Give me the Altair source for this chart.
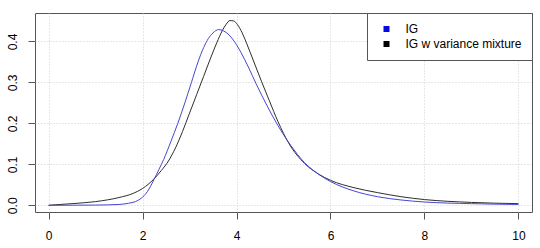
import altair as alt
import pandas as pd

# IG density (blue)
ig_x = [0.0, 0.5, 1.0, 1.5, 1.7, 1.85, 1.97, 2.1, 2.24, 2.35, 2.45, 2.6, 2.75, 2.9, 3.04,
        3.18, 3.3, 3.4, 3.5, 3.62, 3.72, 3.84, 3.96, 4.1, 4.25, 4.42, 4.65, 4.88, 5.15,
        5.45, 5.77, 6.0, 6.5, 7.0, 7.5, 8.0, 9.0, 10.0]
ig_y = [0.0, 0.0002, 0.0005, 0.002, 0.005, 0.009, 0.017, 0.033, 0.062, 0.088, 0.112, 0.155,
        0.2, 0.25, 0.3, 0.35, 0.385, 0.407, 0.421, 0.429, 0.426, 0.416, 0.399, 0.372, 0.338,
        0.296, 0.243, 0.195, 0.147, 0.104, 0.074, 0.058, 0.035, 0.021, 0.013, 0.008, 0.004,
        0.002]

# IG with variance mixture (black)
mix_x = [0.0, 0.5, 1.0, 1.5, 1.8, 2.0, 2.24, 2.4, 2.55, 2.7, 2.85, 3.0, 3.15, 3.3, 3.45,
         3.58, 3.7, 3.78, 3.86, 3.94, 4.02, 4.12, 4.22, 4.37, 4.53, 4.7, 4.88, 5.12, 5.45,
         5.75, 6.0, 6.5, 7.0, 7.5, 8.0, 9.0, 10.0]
mix_y = [0.0, 0.004, 0.009, 0.019, 0.029, 0.041, 0.064, 0.085, 0.108, 0.14, 0.18, 0.225,
         0.27, 0.315, 0.36, 0.397, 0.427, 0.442, 0.451, 0.45, 0.441, 0.421, 0.394, 0.35,
         0.303, 0.255, 0.205, 0.15, 0.102, 0.076, 0.061, 0.043, 0.031, 0.021, 0.014, 0.007,
         0.004]

series_names = ["IG", "IG w variance mixture"]
line_colors = ["#4646d2", "#2e2e2e"]
legend_colors = ["#0808e6", "#000000"]
x_ticks = [0, 2, 4, 6, 8, 10]
y_ticks = [0.0, 0.1, 0.2, 0.3, 0.4]

df_ig = pd.DataFrame({"x": ig_x, "y": ig_y, "s": series_names[0]})
df_mix = pd.DataFrame({"x": mix_x, "y": mix_y, "s": series_names[1]})
df_all = pd.concat([df_ig, df_mix])

x_enc = alt.X("x:Q", scale=alt.Scale(domain=[-0.29, 10.29], nice=False, zero=False),
              axis=alt.Axis(values=x_ticks, title=None, format="d", tickSize=7,
                            labelPadding=11, domain=False, grid=True,
                            gridDash=[1, 2], gridColor="#cfcfcf", tickColor="#555"))
y_enc = alt.Y("y:Q", scale=alt.Scale(domain=[-0.0164, 0.4695], nice=False, zero=False),
              axis=alt.Axis(values=y_ticks, title=None, format=".1f", tickSize=7,
                            labelAngle=-90, labelPadding=9, domain=False, grid=True,
                            gridDash=[1, 2], gridColor="#cfcfcf", tickColor="#555",
                            labelAlign="center", labelBaseline="bottom"))

black_line = alt.Chart(df_mix).mark_line(
    strokeWidth=1, interpolate="monotone", color=line_colors[1]).encode(x=x_enc, y=y_enc)
blue_line = alt.Chart(df_ig).mark_line(
    strokeWidth=1, interpolate="monotone", color=line_colors[0]).encode(x=x_enc, y=y_enc)

legend_layer = alt.Chart(df_all).transform_filter("datum.x < -100").mark_square(
    filled=True, opacity=1).encode(
    x=alt.X("x:Q"), y=alt.Y("y:Q"),
    color=alt.Color("s:N", scale=alt.Scale(domain=series_names, range=legend_colors),
                    legend=alt.Legend(title=None, orient="top-right", offset=0,
                                      symbolType="square", symbolSize=36,
                                      symbolStrokeWidth=0, symbolOffset=3.5,
                                      symbolOpacity=1,
                                      labelOffset=13, padding=10, rowPadding=3,
                                      fillColor="white", strokeColor="#555",
                                      labelFontSize=12, labelFont="Liberation Sans",
                                      labelColor="#000"))
)

chart = alt.layer(black_line, blue_line, legend_layer).properties(
    width=497, height=199,
    autosize=alt.AutoSizeParams(type="none"),
    padding={"left": 35, "top": 13, "right": 8, "bottom": 36},
).configure_view(
    stroke="#555", strokeWidth=1
).configure_axis(
    labelFont="Liberation Sans", labelFontSize=12, labelColor="#000"
)

chart.save("out.html", embed_options={"renderer": "svg", "actions": False})
